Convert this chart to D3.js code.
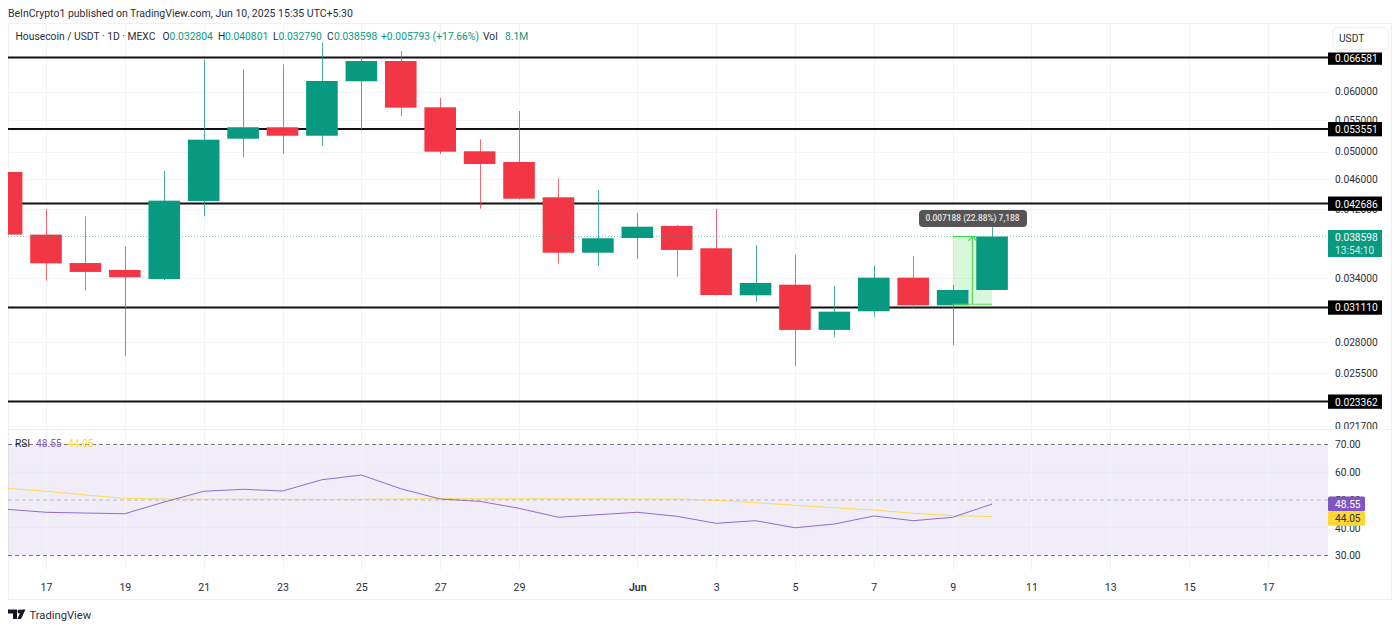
<!DOCTYPE html>
<html><head><meta charset="utf-8">
<script src="https://cdn.jsdelivr.net/npm/d3@7/dist/d3.min.js"></script>
<style>
html,body{margin:0;padding:0;background:#fff;overflow:hidden}
svg{display:block}
text{font-family:Roboto,"Noto Sans",sans-serif;fill:#2a2e39}
</style></head><body>
<svg id="c" width="1400" height="630"></svg>
<script>
// ---- data -----
const dayIndex = d3.range(0, 26);
const opens  = [.04699,.03883,.03561,.03487,.03392,.04302,.05200,.05384,.05247,.06193,.06587,.05721,.05004,.04844,.04350,.03675,.03843,.03987,.03725,.03228,.03334,.02905,.03075,.03406,.03131,.032804];
const closes = [.03883,.03558,.03466,.03410,.04306,.05184,.05384,.05247,.06199,.06587,.05715,.04998,.04814,.04332,.03675,.03840,.03978,.03706,.03231,.03352,.02905,.03071,.03406,.03131,.032804,.038598];
const highs  = [.04900,.04199,.04106,.03743,.04713,.06622,.06423,.06522,.06965,.06674,.06791,.05891,.05191,.05657,.04604,.04448,.04151,.03999,.04199,.03762,.03650,.03321,.03537,.03639,.03331,.040801];
const lows   = [.03800,.03375,.03274,.02684,.03382,.04106,.04914,.04963,.05090,.05328,.05572,.04963,.04202,.04324,.03554,.03529,.03605,.03416,.03228,.03166,.02603,.02844,.03025,.03097,.02773,.03279];
const rsi    = [46.65,45.57,45.30,45.06,49.28,53.14,53.86,53.24,57.30,59.00,54.07,50.36,49.53,47.00,43.77,44.70,45.57,44.13,41.60,42.54,40.00,41.35,44.23,42.54,43.77,48.55];
const rsiMA  = [54.20,53.14,51.80,50.60,50.35,50.25,50.25,50.25,50.20,50.25,50.35,50.47,50.45,50.45,50.42,50.40,50.36,50.36,49.90,49.03,48.10,47.20,46.40,45.20,44.35,44.05];
const levels = [0.066581,0.053551,0.042686,0.031110,0.023362];
const priceTicks = [0.060,0.055,0.050,0.046,0.042,0.034,0.028,0.0255,0.0217];
const rsiTicks = [70,60,50,40,30];
const rsiDashed = [70,50,30];
const rsiGrid = [60,40];
const xTickIdx = [1,3,5,7,9,11,13,16,18,20,22,24,26,28,30,32];
const xTickLabels = ["17","19","21","23","25","27","29","Jun","3","5","7","9","11","13","15","17"];
const lastClose = 0.038598;
const measureFrom = 0.03141, measureTo = 0.038598;
const measureFromIdx = 24, measureToIdx = 25;
const headerText = "BeInCrypto1 published on TradingView.com, Jun 10, 2025 15:35 UTC+5:30";
const legendText = [
 ["Housecoin / USDT · 1D · MEXC",15.5,"#2a2e39"],["O",162.5,"#2a2e39"],["0.032804",169.6,"#089981"],
 ["H",218,"#2a2e39"],["0.040801",225,"#089981"],["L",273,"#2a2e39"],["0.032790",278.5,"#089981"],
 ["C",327,"#2a2e39"],["0.038598",334,"#089981"],["+0.005793 (+17.66%)",381,"#089981"],
 ["Vol",483,"#2a2e39"],["8.1M",505,"#089981"]];
const rsiLegend = [["RSI",15,"#2a2e39"],["48.55",36,"#7E57C2"],["44.05",68,"#FDD835"]];

// ---- scales -----
const UP="#089981", DOWN="#F23645", PURPLE="#7E57C2", YEL="#FDD835", GRID="#f3f4f6";
const L=8, R=1328, AR=1391, T=23, PB=429, RB=570, B=599;
const x = d3.scaleLinear().domain([1,32]).range([46,1268]);
const y = d3.scaleLog().domain([levels[0],levels[4]]).range([57.5,401.5]);
const r = d3.scaleLinear().domain([70,30]).range([444.5,555.5]);
const bw = 31.6;
const AXF = "10.2px", LEGF = "10.3px";

const svg = d3.select("#c");
const defs = svg.append("defs");
defs.append("clipPath").attr("id","plot").append("rect").attr("x",L).attr("y",T).attr("width",R-L).attr("height",PB-T);
defs.append("clipPath").attr("id","axisclip").append("rect").attr("x",R).attr("y",T).attr("width",AR-R).attr("height",PB-T);
defs.append("clipPath").attr("id","rsiclip").append("rect").attr("x",L).attr("y",PB).attr("width",R-L).attr("height",RB-PB);

// frame
svg.append("rect").attr("x",L+.5).attr("y",T+.5).attr("width",AR-L).attr("height",B-T).attr("fill","none").attr("stroke","#eff0f3");
svg.append("line").attr("x1",L).attr("x2",AR).attr("y1",PB+.5).attr("y2",PB+.5).attr("stroke","#eceef2");

// header
svg.append("text").attr("x",8).attr("y",13).attr("dy",".35em").style("font-size","10.5px").text(headerText);

// rsi band
svg.append("rect").attr("x",L).attr("width",R-L).attr("y",r(70)).attr("height",r(30)-r(70)).attr("fill",PURPLE).attr("fill-opacity",.115);

// grid
const g = svg.append("g");
g.selectAll("line.v").data(xTickIdx).join("line").attr("class","v")
 .attr("x1",d=>Math.round(x(d))+.5).attr("x2",d=>Math.round(x(d))+.5).attr("y1",T).attr("y2",RB).attr("stroke",GRID);
g.selectAll("line.h").data(priceTicks).join("line").attr("class","h")
 .attr("x1",L).attr("x2",R).attr("y1",d=>Math.round(y(d))+.5).attr("y2",d=>Math.round(y(d))+.5).attr("stroke",GRID);
g.selectAll("line.r").data(rsiGrid).join("line").attr("class","r")
 .attr("x1",L).attr("x2",R).attr("y1",d=>r(d)).attr("y2",d=>r(d)).attr("stroke","#e9e6f3");
g.selectAll("line.d").data(rsiDashed).join("line").attr("class","d")
 .attr("x1",L).attr("x2",R).attr("y1",d=>r(d)).attr("y2",d=>r(d))
 .attr("stroke",d=>d===50?"#b8b8c2":"#787b86").attr("stroke-dasharray","4 3");

// levels
const plot = svg.append("g").attr("clip-path","url(#plot)");
plot.selectAll("line.l").data(levels).join("line").attr("class","l")
 .attr("x1",L).attr("x2",R).attr("y1",y).attr("y2",y).attr("stroke","#111").attr("stroke-width",2);

// measure tool
const mx0=x(measureFromIdx), mx1=x(measureToIdx), mxm=(mx0+mx1)/2;
plot.append("rect").attr("x",mx0).attr("width",mx1-mx0).attr("y",y(measureTo)).attr("height",y(measureFrom)-y(measureTo)).attr("fill","#4cd94c").attr("fill-opacity",.2);

// candles
const data = dayIndex.map(i=>({i,o:opens[i],c:closes[i],h:highs[i],l:lows[i]}));
const col = d=>d.c>=d.o?UP:DOWN;
const cgc = svg.append("g").attr("clip-path","url(#plot)");
cgc.selectAll("line").data(data).join("line")
 .attr("x1",d=>Math.round(x(d.i))+.5).attr("x2",d=>Math.round(x(d.i))+.5).attr("y1",d=>y(d.h)).attr("y2",d=>y(d.l))
 .attr("stroke",col).attr("stroke-width",1).attr("stroke-opacity",.75);
cgc.selectAll("rect").data(data).join("rect")
 .attr("x",d=>x(d.i)-bw/2).attr("width",bw)
 .attr("y",d=>y(Math.max(d.o,d.c))).attr("height",d=>Math.abs(y(d.o)-y(d.c)))
 .attr("fill",col);

// measure borders and arrow
const mg = svg.append("g").attr("stroke","#4fdc4f").attr("fill","none").attr("stroke-width",1.2);
mg.append("line").attr("x1",mx0).attr("x2",mx1-bw/2).attr("y1",y(measureTo)).attr("y2",y(measureTo));
mg.append("line").attr("x1",mx0).attr("x2",mx1).attr("y1",y(measureFrom)).attr("y2",y(measureFrom));
mg.append("line").attr("x1",mxm).attr("x2",mxm).attr("y1",y(measureFrom)).attr("y2",y(measureTo));
mg.append("path").attr("d",d3.line()([[mxm-4,y(measureTo)+4],[mxm,y(measureTo)],[mxm+4,y(measureTo)+4]]));

// last price dotted line
svg.append("line").attr("x1",L).attr("x2",R).attr("y1",y(lastClose)).attr("y2",y(lastClose))
 .attr("stroke",UP).attr("stroke-opacity",.55).attr("stroke-dasharray","1 2");

// measure label
const tt = svg.append("g");
tt.append("rect").attr("x",919).attr("y",210).attr("width",108).attr("height",17).attr("rx",4).attr("fill","#555");
tt.append("text").attr("x",972.5).attr("y",218.5).attr("dy",".35em").attr("text-anchor","middle").style("fill","#e8e8e8").style("font-size","8.4px").style("font-weight","500").text("0.007188 (22.88%) 7,188");

// legend
svg.append("g").selectAll("text").data(legendText).join("text")
 .attr("x",d=>d[1]).attr("y",36).attr("dy",".35em").style("font-size",LEGF).style("fill",d=>d[2]).text(d=>d[0]);

// price axis
const pa = svg.append("g").attr("clip-path","url(#axisclip)").append("g").attr("transform",`translate(${R},0)`)
 .call(d3.axisRight(y).tickValues(priceTicks).tickSize(0).tickPadding(7).tickFormat(d3.format(".6f")));
pa.select(".domain").remove();
pa.selectAll("text").style("font-size",AXF).style("font-family","Roboto").style("fill","#2a2e39");

// level tags
const tags = svg.append("g");
tags.selectAll("rect").data(levels).join("rect")
 .attr("x",R).attr("width",54)
 .attr("y",d=>Math.max(y(d)-7,52.5)).attr("height",d=>y(d)+7.3-Math.max(y(d)-7,52.5)).attr("fill","#000");
tags.selectAll("text").data(levels).join("text")
 .attr("x",R+7).attr("y",d=>y(d)+.5).attr("dy",".35em").style("fill","#fff").style("font-size",AXF).text(d3.format(".6f"));

// last price tag
svg.append("rect").attr("x",R).attr("width",54).attr("y",230).attr("height",27).attr("fill",UP);
svg.append("text").attr("x",R+7).attr("y",237).attr("dy",".35em").style("fill","#fff").style("font-size",AXF).text(d3.format(".6f")(lastClose));
svg.append("text").attr("x",R+7).attr("y",250).attr("dy",".35em").style("fill","#d3efe9").style("font-size",AXF).text("13:54:10");

// USDT button
svg.append("rect").attr("x",1332.5).attr("y",27.5).attr("width",56).attr("height",22).attr("rx",5).attr("fill","#fff").attr("stroke","#f0f1f4");
svg.append("text").attr("x",1339).attr("y",38.5).attr("dy",".35em").style("font-size",AXF).text("USDT");

// rsi lines
const ln = d3.line().x((d,i)=>x(i)).y(d=>r(d));
const rc = svg.append("g").attr("clip-path","url(#rsiclip)");
rc.append("path").attr("d",ln(rsiMA)).attr("fill","none").attr("stroke",YEL).attr("stroke-width",1).attr("stroke-opacity",.85);
rc.append("path").attr("d",ln(rsi)).attr("fill","none").attr("stroke",PURPLE).attr("stroke-width",1).attr("stroke-opacity",.85);

// rsi legend
svg.append("g").selectAll("text").data(rsiLegend).join("text")
 .attr("x",d=>d[1]).attr("y",443).attr("dy",".35em").style("font-size",AXF).style("fill",d=>d[2]).text(d=>d[0]);

// rsi axis
const ra = svg.append("g").attr("transform",`translate(${R},0)`)
 .call(d3.axisRight(r).tickValues(rsiTicks).tickSize(0).tickPadding(7).tickFormat(d3.format(".2f")));
ra.select(".domain").remove();
ra.selectAll("text").style("font-size",AXF).style("font-family","Roboto").style("fill","#2a2e39");

// rsi tags
const rsiTagVals=[[rsi[25],PURPLE,"#fff",496.5],[rsiMA[25],YEL,"#2a2e39",511]];
rsiTagVals.forEach(v=>{
 svg.append("rect").attr("x",R).attr("width",37).attr("y",v[3]).attr("height",14.7).attr("rx",1.5).attr("fill",v[1]);
 svg.append("text").attr("x",R+7).attr("y",v[3]+7.5).attr("dy",".35em").style("fill",v[2]).style("font-size",AXF).text(d3.format(".2f")(v[0]));
});

// x axis
const xa = svg.append("g").attr("transform","translate(0,587)")
 .call(d3.axisBottom(x).tickValues(xTickIdx).tickSize(0).tickPadding(0).tickFormat((d,i)=>xTickLabels[i]));
xa.select(".domain").remove();
xa.selectAll("text").attr("y",0).attr("dy",".35em").style("font-size","10.6px").style("font-family","Roboto").style("fill","#2a2e39")
 .style("font-weight",(d,i)=>xTickLabels[i]==="Jun"?"600":"400");

// footer logo
const logo = svg.append("g").attr("transform","translate(8,609.5)").attr("fill","#131722");
logo.append("path").attr("d","M0 0H9V9.5H5V4H0Z");
logo.append("circle").attr("cx",11.5).attr("cy",2).attr("r",2);
logo.append("path").attr("d","M13.5 0H17.5L13 9.5H9.5Z");
svg.append("text").attr("x",29.5).attr("y",615).attr("dy",".35em").style("font-size","11.2px").style("fill","#2a2e39").text("TradingView");
</script>
</body></html>
